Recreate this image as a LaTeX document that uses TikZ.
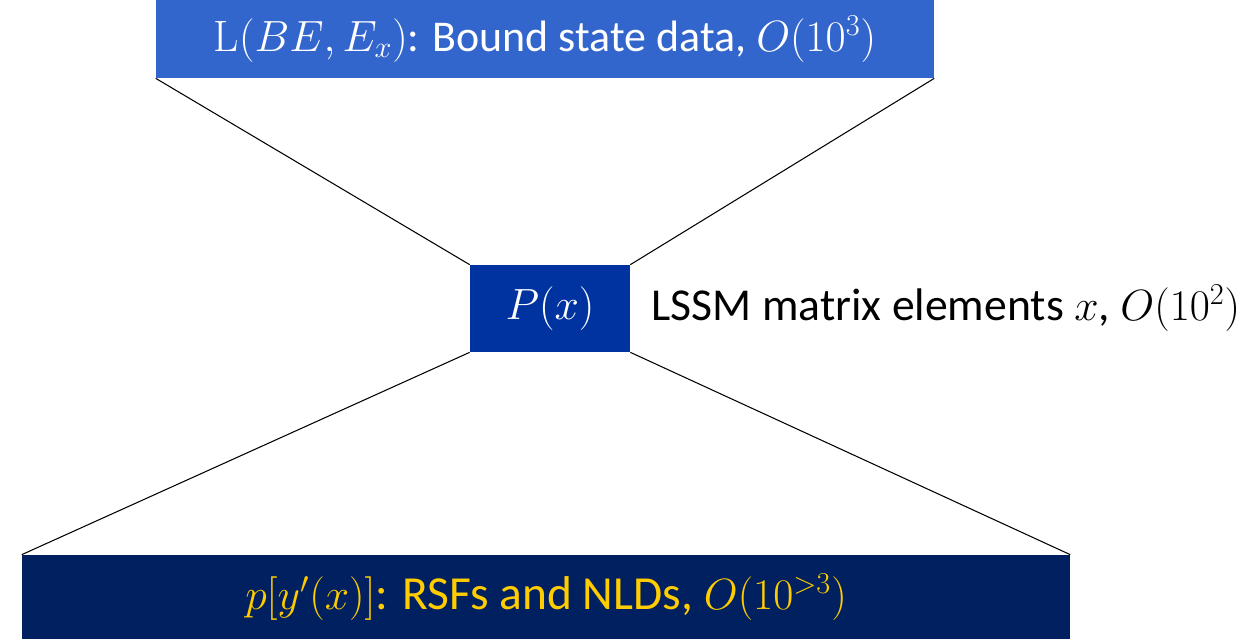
\documentclass[tikz,border=0pt]{standalone}
\usepackage{amsmath}
\usepackage{fontspec}
\setmainfont{Carlito}
\newfontfamily\lmrom{Latin Modern Roman}
\usetikzlibrary{positioning}

\definecolor{topblue}{HTML}{3366CC}
\definecolor{midblue}{HTML}{0033A0}
\definecolor{navy}{HTML}{002060}
\definecolor{gold}{HTML}{FFCC00}

\begin{document}
\begin{tikzpicture}[
  x=0.02cm, y=-0.02cm,
  node distance=0pt,
  link/.style   = {black, line width=0.6pt},
  blk/.style    = {inner sep=0pt, font=\fontsize{25}{30}\selectfont},
  topbox/.style = {blk, fill=topblue, text=white, minimum width=15.56cm, minimum height=1.56cm},
  midbox/.style = {blk, fill=midblue, text=white, minimum width=3.2cm, minimum height=1.74cm},
  botbox/.style = {blk, fill=navy, text=gold, minimum width=20.96cm, minimum height=1.68cm,
                   font=\fontsize{27}{32}\selectfont},
  lbl/.style    = {font=\fontsize{26}{31}\selectfont, anchor=west, inner sep=0pt},
]
\useasboundingbox (0,0) rectangle (1248,639);

%% ------------------------------------------------------------------ BOXES
\node[topbox] (bound) at (545,39)    {{\lmrom L}$(BE,E_x)$: Bound state data, $O(10^3)$};
\node[midbox] (pdist) at (550,308.5) {$P(x)$};
\node[botbox] (rsf)   at (546,597)   {$p[y'(x)]$: RSFs and NLDs, $O(10^{>3})$};

\node[lbl, right=12pt of pdist] (lssm) {LSSM matrix elements $x$, $O(10^2)$};

%% ------------------------------------------------------------------ FUNNEL
\draw[link] (bound.south west) -- (pdist.north west);
\draw[link] (bound.south east) -- (pdist.north east);
\draw[link] (pdist.south west) -- (rsf.north west);
\draw[link] (pdist.south east) -- (rsf.north east);

\end{tikzpicture}
\end{document}
